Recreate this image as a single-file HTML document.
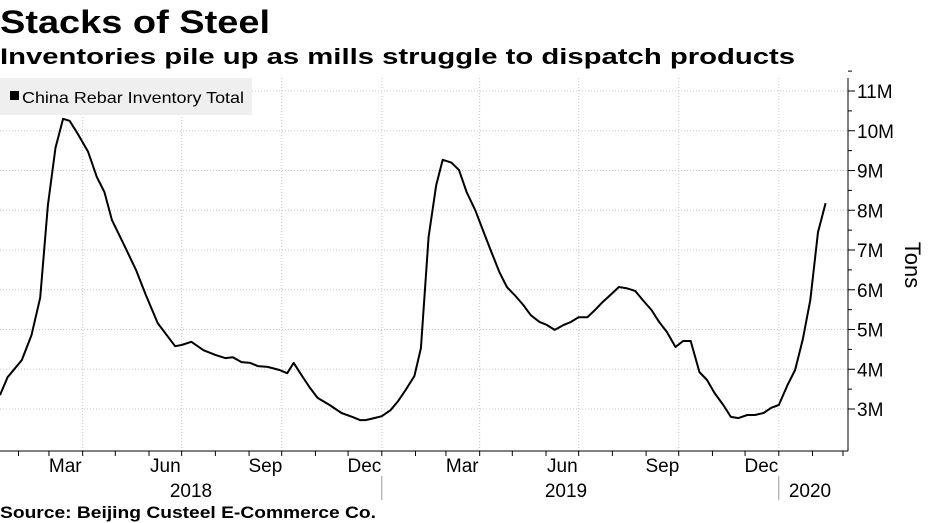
<!DOCTYPE html>
<html><head><meta charset="utf-8"><style>
html,body{margin:0;padding:0;background:#fff;}
svg{display:block;font-family:"Liberation Sans",sans-serif;}
</style></head><body>
<svg id="chart" width="930" height="523" viewBox="0 0 930 523">
<text x="0" y="33" font-size="32" font-weight="bold" textLength="270" lengthAdjust="spacingAndGlyphs">Stacks of Steel</text>
<text x="0" y="64" font-size="22" font-weight="bold" textLength="795" lengthAdjust="spacingAndGlyphs">Inventories pile up as mills struggle to dispatch products</text>
<g id="grid"></g>
<g id="axes"></g>
<rect x="0" y="78" width="252" height="37" fill="#efefef"/>
<rect x="10" y="91" width="9" height="9" fill="#000"/>
<text x="22" y="103" font-size="16" textLength="222" lengthAdjust="spacingAndGlyphs">China Rebar Inventory Total</text>
<path id="line" fill="none" stroke="#000" stroke-width="2" stroke-linejoin="round"/>
<text transform="translate(905,265) rotate(90)" font-size="22" text-anchor="middle">Tons</text>
<text x="0" y="518" font-size="17" font-weight="bold" textLength="376" lengthAdjust="spacingAndGlyphs">Source: Beijing Custeel E-Commerce Co.</text>
</svg>
<script>
// days since 2018-01-14
const days=[0,7,20,29,37,44,51,58,64,72,81,89,96,103,114,125,134,145,161,167,176,187,198,207,214,222,230,237,246,257,264,270,277,285,292,303,314,324,331,336,344,351,359,366,373,381,387,394,401,407,415,422,429,437,444,451,459,466,473,481,488,496,503,510,518,525,532,540,547,554,562,569,576,584,591,599,606,613,621,628,635,643,650,657,665,672,679,687,694,702,709,716,724,731,738,745,752,759];
// millions of tons
const values=[3.35,3.8,4.23,4.86,5.8,8.13,9.57,10.3,10.25,9.9,9.47,8.84,8.46,7.75,7.13,6.5,5.87,5.16,4.58,4.61,4.69,4.48,4.36,4.28,4.3,4.18,4.16,4.08,4.06,3.98,3.9,4.16,3.86,3.53,3.28,3.1,2.9,2.8,2.72,2.72,2.77,2.82,2.97,3.2,3.48,3.83,4.53,7.33,8.63,9.27,9.2,9.01,8.46,8.0,7.5,7.0,6.45,6.07,5.87,5.62,5.36,5.19,5.11,4.99,5.11,5.19,5.31,5.31,5.49,5.69,5.89,6.07,6.04,5.97,5.74,5.49,5.19,4.94,4.56,4.71,4.71,3.93,3.73,3.4,3.1,2.8,2.77,2.85,2.85,2.9,3.03,3.1,3.6,3.98,4.74,5.74,7.45,8.18];
const yTicks=[3,4,5,6,7,8,9,10,11];
const monthLabels=["Mar","Jun","Sep","Dec","Mar","Jun","Sep","Dec"];
const monthLabelDays=[74,166,258,349,439,531,623,714]; // mid-month, days since 2018-01-01
const years=["2018","2019","2020"];
const yearPos=[191,566,810];

const NS="http://www.w3.org/2000/svg";
const PX_PER_DAY=1.0877;
const X0=-14*PX_PER_DAY; // 2018-01-01
const xs=d=>d*PX_PER_DAY;               // days since 2018-01-14
const xDate=dd=>X0+dd*PX_PER_DAY;       // days since 2018-01-01
const ys=v=>409-(v-3)*39.75;
const RIGHT=848,BOTTOM=451,TOP=78;
const grid=document.getElementById('grid'),axes=document.getElementById('axes');
function mk(tag,attrs,parent){const e=document.createElementNS(NS,tag);for(const k in attrs)e.setAttribute(k,attrs[k]);parent.appendChild(e);return e;}

yTicks.forEach(v=>{
  const g=mk('line',{x1:0,x2:RIGHT,y1:ys(v),y2:ys(v),stroke:'#c8c8c8','stroke-dasharray':'1,2'},grid);
  
  
  const t=mk('line',{x1:RIGHT,x2:RIGHT+7,y1:ys(v),y2:ys(v),stroke:'#000'},axes);
  
  
  const h=mk('line',{x1:RIGHT,x2:RIGHT+4,y1:ys(v+0.5),y2:ys(v+0.5),stroke:'#000'},axes);
  
  
  const l=mk('text',{x:RIGHT+9,y:ys(v)+7,'font-size':19},axes);
  l.textContent=v+'M';
  
  
});
const cum=[0,31,59,90,120,151,181,212,243,273,304,334];
for(let y=0;y<3;y++){for(let m=0;m<12;m++){
  const d=y*365+cum[m];const x=xDate(d);if(x<0||x>RIGHT)continue;
  const t=mk('line',{x1:x,x2:x,y1:BOTTOM,y2:BOTTOM+5,stroke:'#000'},axes);
  
  
  if(m%3===0){
    const g=mk('line',{x1:x,x2:x,y1:TOP,y2:BOTTOM,stroke:'#c8c8c8','stroke-dasharray':'1,2'},grid);
    
    
  }
  if(m===0&&y>0){
    const s=mk('line',{x1:x,x2:x,y1:476,y2:500,stroke:'#999'},axes);
    
    
  }
}}
monthLabels.forEach((m,i)=>{
  const t=mk('text',{x:xDate(monthLabelDays[i]),y:472,'font-size':19,'text-anchor':'middle'},axes);
  t.textContent=m;
  
  
});
years.forEach((yr,i)=>{
  const t=mk('text',{x:yearPos[i],y:497,'font-size':19,'text-anchor':'middle'},axes);
  t.textContent=yr;
  
  
});
const ax=mk('line',{x1:0,x2:RIGHT,y1:BOTTOM,y2:BOTTOM,stroke:'#000'},axes);


const ay=mk('line',{x1:RIGHT,x2:RIGHT,y1:TOP,y2:BOTTOM,stroke:'#000'},axes);


document.getElementById('line').setAttribute('d',days.map((d,i)=>(i?'L':'M')+xs(d).toFixed(1)+','+ys(values[i]).toFixed(1)).join(''));
</script>
</body></html>
